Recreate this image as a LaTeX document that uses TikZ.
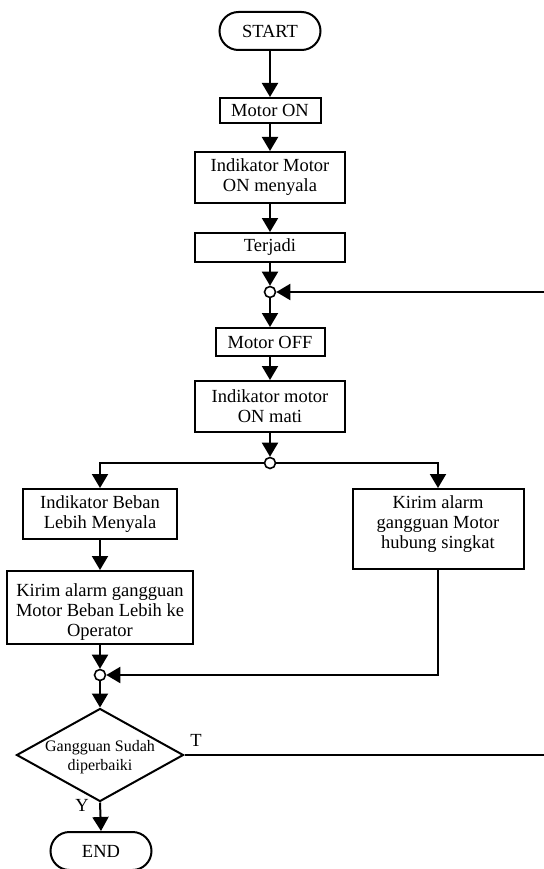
\documentclass[tikz,border=0pt]{standalone}
\usepackage{fontspec}
\setmainfont{Liberation Serif}
\usetikzlibrary{arrows.meta,shapes.geometric}
\begin{document}
\begin{tikzpicture}[x=1pt,y=-1pt,line width=2pt,
  font=\fontsize{18.5}{20}\selectfont,
  box/.style={draw,line width=2pt,inner sep=0pt,align=center},
  term/.style={draw,line width=2pt,inner sep=0pt,rounded corners=19pt,minimum width=101pt,minimum height=38pt},
  junc/.style={circle,draw,fill=white,minimum size=11pt,inner sep=0pt,line width=1.6pt},
  arr/.style={-{Triangle[length=14pt,width=16pt]},line width=2pt},
  boxtext/.style={align=center,inner sep=0pt},
  lbl/.style={inner sep=0pt}]
\useasboundingbox (0,0) rectangle (543,869);
\node[term] (start) at (270,31) {START};
\node[box,minimum width=101pt,minimum height=25pt] (mon) at (270,110.5) {Motor ON};
\node[box,minimum width=150pt,minimum height=51pt] (imon) at (270,177.5) {Indikator Motor\\ON menyala};
\node[box,minimum width=150pt,minimum height=29pt] (terj) at (270,247.5) {Terjadi};
\node[junc] (j1) at (270,292) {};
\node[box,minimum width=109pt,minimum height=28pt] (moff) at (270,342) {Motor OFF};
\node[box,minimum width=150pt,minimum height=51pt] (imoff) at (270,406.5) {Indikator motor\\ON mati};
\node[junc] (j2) at (270,463) {};
\node[box,minimum width=154pt,minimum height=50pt] (ib) at (100,514) {Indikator Beban\\Lebih Menyala};
\node[box,minimum width=186pt,minimum height=73pt,
  label={[boxtext,yshift=-5pt]center:Kirim alarm gangguan\\Motor Beban Lebih ke\\Operator}] (kl) at (100,607.5) {};
\node[box,minimum width=171pt,minimum height=80pt,
  label={[boxtext,yshift=5pt]center:Kirim alarm\\gangguan Motor\\hubung singkat}] (kr) at (438,529) {};
\node[junc] (j3) at (100,675) {};
\node[diamond,draw,line width=2pt,inner sep=0pt,minimum width=167pt,minimum height=93pt,
  label={[font=\fontsize{16}{18.5}\selectfont,align=center,yshift=-2pt]center:Gangguan Sudah\\diperbaiki}] (dec) at (100,755) {};
\node[term] (end) at (101,851) {END};
\node[lbl] (tl) at (196,740) {T};
\node[lbl] (yl) at (82,805) {Y};
\coordinate (c1) at (546,755);
\coordinate (c2) at (546,292);
\draw[arr] (start.south) -- (mon.north);
\draw[arr] (mon.south) -- (imon.north);
\draw[arr] (imon.south) -- (terj.north);
\draw[arr] (terj.south) -- (j1.north);
\draw[arr] (j1.south) -- (moff.north);
\draw[arr] (moff.south) -- (imoff.north);
\draw[arr] (imoff.south) -- (j2.north);
\draw[arr] (j2.west) -| (ib.north);
\draw[arr] (j2.east) -| (kr.north);
\draw[arr] (ib.south) -- (kl.north);
\draw[arr] (kl.south) -- (j3.north);
\draw[arr] (kr.south) |- (j3.east);
\draw[arr] (j3.south) -- (dec.north);
\draw[arr] (dec.south) -- (end.north);
\draw[arr] (dec.east) -- (c1) -- (c2) -- (j1.east);
\end{tikzpicture}
\end{document}
